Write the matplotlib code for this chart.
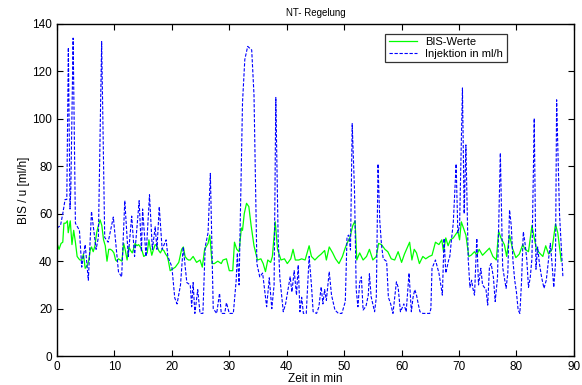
import matplotlib
matplotlib.use("Agg")
import matplotlib.pyplot as plt

plt.rcParams['font.family'] = ['Liberation Sans', 'DejaVu Sans']

# Injektion (ml/h)
inj_t = [0.0, 0.6, 1.0, 1.4, 1.7, 1.97, 2.26, 2.4, 2.8, 3.2, 3.9, 4.3, 4.9, 5.45, 6.0, 6.8, 7.2,
         7.77, 8.3, 8.9, 9.8, 10.7, 11.25, 11.8, 12.4, 13.0, 13.5, 14.3, 14.7, 14.9, 15.5, 16.1,
         16.6, 17.1, 17.4, 17.8, 18.3, 19.0, 19.3, 20.0, 20.5, 20.9, 21.5, 21.97, 22.6, 23.2,
         23.45, 23.7, 24.0, 24.5, 24.9, 25.4, 25.8, 26.3, 26.7, 27.2, 27.8, 28.3, 28.6, 29.2,
         29.5, 30.0, 30.7, 31.2, 31.4, 31.7, 32.3, 32.7, 33.2, 33.9, 34.3, 34.8, 35.3, 35.8,
         36.5, 36.96, 37.4, 37.8, 38.1, 38.5, 38.8, 39.4, 39.8, 40.6, 40.9, 41.3, 41.7, 42.0,
         42.3, 42.6, 42.9, 43.4, 43.9, 44.3, 44.6, 45.2, 45.6, 46.0, 46.3, 46.6, 46.9, 47.4,
         47.8, 48.4, 49.0, 49.6, 50.2, 50.5, 50.8, 51.1, 51.4, 51.8, 52.1, 52.4, 52.7, 53.0,
         53.3, 53.8, 54.2, 54.4, 54.7, 55.3, 55.6, 55.9, 56.2, 56.5, 56.8, 57.4, 57.7, 58.1,
         58.5, 59.1, 59.4, 59.8, 60.4, 60.8, 61.3, 61.7, 62.0, 62.3, 62.6, 62.9, 63.2, 63.7,
         64.9, 65.1, 65.3, 65.9, 66.5, 66.9, 67.1, 67.4, 67.7, 68.2, 68.4, 68.7, 69.0, 69.5,
         69.8, 70.1, 70.6, 70.9, 71.2, 71.6, 71.9, 72.2, 72.4, 72.7, 73.1, 73.4, 73.8, 74.1,
         74.4, 74.7, 75.0, 75.3, 75.6, 76.0, 76.3, 76.7, 77.2, 77.6, 77.9, 78.2, 78.5, 78.8,
         79.1, 79.4, 79.7, 80.0, 80.3, 80.6, 80.9, 81.2, 81.5, 81.8, 82.1, 82.4, 82.7, 83.1,
         83.4, 83.7, 84.0, 84.4, 84.8, 85.2, 85.6, 85.9, 86.2, 86.5, 86.8, 87.0, 87.5, 88.1]
inj_v = [54, 55, 60, 66, 66, 130, 62, 70, 134, 56, 53, 37.5, 47, 32, 61, 45, 50,
         132.5, 50, 48, 58.6, 35.5, 33.4, 65.5, 42, 59, 42, 65.5, 44, 62, 42, 68,
         45, 54.5, 45, 63, 45, 49, 42, 37.6, 24.5, 22, 30, 46, 31, 30,
         20.8, 31, 18, 28, 18, 18, 46, 52, 77, 20, 18, 26.5, 18, 18,
         22.5, 18, 18, 32, 43.5, 30, 107, 125, 130.5, 129, 110, 39, 33.4, 35,
         20.8, 33, 20, 30, 109, 50, 33, 18.7, 22, 33.4, 27, 36, 25.7, 38.4,
         18.7, 24.8, 18, 18, 42, 30, 18.7, 18, 20.8, 29.2, 22, 28, 23.5, 35.6,
         25.7, 19.4, 18, 18, 23, 50.3, 51, 44.7, 98, 70, 28, 20.8, 31, 33.4,
         19.4, 21, 25.7, 34.7, 25, 18.7, 24.8, 81, 57, 47, 41, 39.9, 24.8, 22,
         18, 31.3, 29, 18.7, 22, 18.7, 35, 18.7, 24.8, 28, 25.7, 22, 18.7, 18,
         18, 20, 37, 40.5, 35, 29, 25.7, 49.6, 35, 40.5, 42, 49.4, 56, 81,
         52, 55, 113, 60, 89, 41, 29, 32, 28.7, 25.7, 49.6, 30, 37, 30,
         29, 28, 21.5, 37.5, 39, 33, 23, 33, 85.6, 37.5, 33, 28.6, 35, 61.6,
         55, 40, 32, 27, 19.4, 18, 32, 52.4, 47.5, 40.8, 29, 33, 41, 100.2,
         36.6, 46, 39, 33, 28.6, 32, 41, 47.5, 39, 29, 39, 108, 60, 33]

# BIS-Werte
bis_t = [0.0, 0.35, 0.7, 1.0, 1.2, 1.5, 1.8, 1.95, 2.3, 2.6, 2.9, 3.2, 3.5, 3.8, 4.0, 4.3, 4.6,
         4.9, 5.2, 5.5, 5.8, 6.0, 6.3, 6.6, 6.9, 7.2, 7.5, 7.8, 8.1, 8.4, 8.7, 9.0, 9.3, 9.6,
         9.9, 10.2, 10.4, 10.7, 11.0, 11.3, 11.6, 11.9, 12.2, 12.5, 12.8, 13.1, 13.3, 13.6,
         13.9, 14.2, 14.5, 14.8, 15.1, 15.4, 15.7, 16.0, 16.2, 16.5, 16.8, 17.1, 17.4, 17.7,
         18.0, 18.3, 18.6, 18.9, 19.2, 19.4, 19.7, 20.0, 20.6, 21.2, 21.7, 22.0, 22.3, 22.6,
         22.9, 23.2, 23.7, 24.3, 24.9, 25.3, 25.7, 26.3, 26.6, 27.0, 27.4, 28.0, 28.6, 28.9,
         29.5, 30.0, 30.6, 30.9, 31.3, 31.7, 32.1, 32.3, 32.6, 33.0, 33.4, 33.8, 34.3, 34.9,
         35.5, 35.9, 36.3, 36.7, 37.2, 37.5, 38.0, 38.4, 39.0, 39.6, 40.1, 40.7, 41.1, 41.5,
         42.1, 42.6, 43.2, 43.9, 44.3, 44.9, 45.5, 46.0, 46.6, 46.9, 47.4, 48.0, 48.5, 49.1,
         49.7, 50.1, 50.4, 51.0, 51.5, 51.9, 52.2, 52.7, 53.3, 53.9, 54.4, 55.0, 55.6, 56.0,
         56.5, 57.1, 57.6, 58.2, 58.8, 59.4, 60.0, 60.5, 61.4, 61.8, 62.2, 62.6, 63.1, 63.7,
         64.2, 64.8, 65.3, 65.9, 66.5, 67.0, 67.3, 67.7, 68.1, 68.5, 69.0, 69.4, 69.8, 70.1,
         70.4, 70.8, 71.2, 71.7, 72.1, 72.7, 73.1, 73.5, 74.1, 74.7, 75.3, 75.9, 76.5, 76.9,
         77.3, 77.9, 78.3, 78.8, 79.3, 79.9, 80.5, 81.1, 81.5, 82.1, 82.7, 83.1, 83.5, 84.0,
         84.6, 85.1, 85.6, 86.2, 86.8, 87.2, 87.8]
bis_v = [47.5, 45, 47.5, 48, 56, 56, 57, 52, 57, 47, 53, 48, 42, 41, 40.5, 40.5, 43,
         37, 38, 40, 45, 46, 44, 46.5, 52, 55, 57.4, 55, 49, 46.5, 40, 45, 45, 44.5,
         43.5, 40.5, 40, 41, 40.5, 40, 47.5, 44.5, 40.5, 46, 44.5, 43.5, 45, 47.5,
         46.5, 47, 46, 44.5, 42, 42.5, 43.5, 49, 46, 42.5, 45, 47, 46.5, 44.5,
         43.5, 45, 44.5, 43, 42, 40, 36, 36.5, 37.5, 39.5, 45, 46, 42, 41,
         40.5, 40.5, 42, 39.5, 40.5, 37.5, 45, 47.5, 51, 39, 39, 40, 39, 40.5,
         41, 36, 36, 48, 45, 44, 54, 53, 60, 64.4, 63, 55, 46.5, 40.5,
         41, 39, 35.6, 40.5, 39.5, 42, 56.6, 45, 40.5, 41, 39, 41, 45, 40.5,
         40.5, 41, 40.5, 46.5, 42, 40.5, 42, 43, 44.5, 40.5, 46, 43.5, 41, 39,
         42, 45, 47, 50, 55, 57, 40.5, 43.5, 40.5, 42, 45, 40.5, 42, 47.5,
         47, 45, 44, 41, 40.5, 44, 39.5, 43, 48, 40.5, 45, 43.5, 39, 42,
         41, 42, 42.5, 48, 47, 49, 44, 49.8, 46.5, 49, 49.8, 51.2, 52.6, 49,
         56.6, 53.8, 51, 42, 42.5, 44, 42.5, 45, 42.5, 44, 45.5, 42, 40.5, 52.6,
         49.8, 47, 42, 51, 45.5, 41.5, 43, 47, 45, 44, 55, 49.8, 45, 43.5,
         42, 46.5, 43, 45, 55.6, 52, 40]

fig = plt.figure(figsize=(5.82, 3.85), dpi=100)
ax = fig.add_axes([0.098, 0.075, 0.888, 0.863])

ax.plot(bis_t, bis_v, color='#00ff00', lw=0.9, label='BIS-Werte')
ax.plot(inj_t, inj_v, color='#0000ff', lw=0.8, linestyle=(0, (3, 1.5)), label='Injektion in ml/h')

ax.set_xlim(0, 90)
ax.set_ylim(0, 140)
ax.set_xticks(range(0, 91, 10))
ax.set_yticks(range(0, 141, 20))
ax.tick_params(direction='in', top=True, right=True, length=4, width=0.8, labelsize=8.5)
for s in ax.spines.values():
    s.set_linewidth(1.0)

ax.set_title('NT- Regelung', fontsize=7, pad=6)
ax.set_xlabel('Zeit in min', fontsize=8.5, labelpad=0)
ax.set_ylabel('BIS / u [ml/h]', fontsize=8.5, labelpad=2)

leg = ax.legend(loc='upper right', bbox_to_anchor=(0.870, 0.970), fontsize=8,
                frameon=True, fancybox=False, edgecolor='black', handlelength=2.5,
                borderpad=0.3, labelspacing=0.15, handletextpad=0.8, borderaxespad=0)
leg.get_frame().set_linewidth(0.9)

fig.savefig('out.png', dpi=100)
